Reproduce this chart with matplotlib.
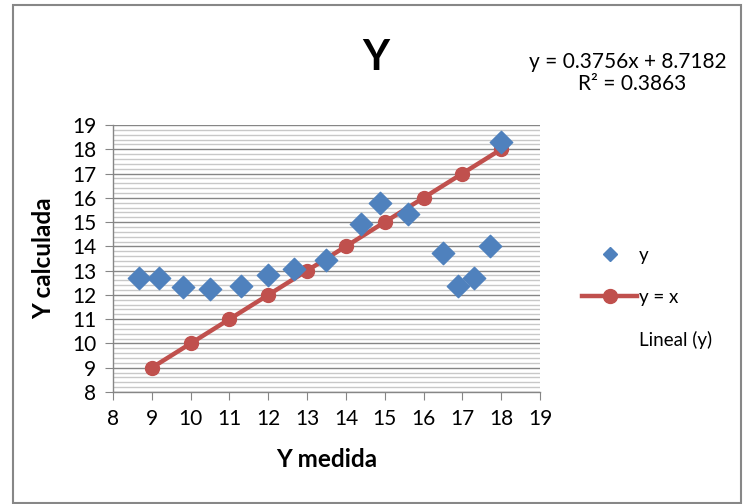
import numpy as np
import matplotlib
matplotlib.use('Agg')
import matplotlib.pyplot as plt
from matplotlib.lines import Line2D
from matplotlib.patches import Rectangle

plt.rcParams['font.family'] = ['Lato', 'DejaVu Sans']

# measured vs calculated values
y_medida = [8.68, 9.18, 9.81, 10.5, 11.29, 11.99, 12.67, 13.48,
            14.39, 14.89, 15.6, 16.5, 16.9, 17.3, 17.7, 17.99]
y_calc = [12.68, 12.71, 12.31, 12.24, 12.38, 12.82, 13.07, 13.45,
          14.91, 15.79, 15.32, 13.74, 12.37, 12.71, 14.03, 18.29]
ref_x = [9, 10, 11, 12, 13, 14, 15, 16, 17, 18]
ref_y = ref_x

blue = '#4F81BD'
red = '#C0504D'

fig = plt.figure(figsize=(7.49, 5.04), dpi=100)
fig.patches.append(Rectangle((13/749, 1/504), 728/749, 498/504, transform=fig.transFigure,
                             fill=False, edgecolor='#878787', linewidth=1.5))

ax = fig.add_axes([113/749, 112/504, 427/749, 267/504])
ax.set_xlim(8, 19)
ax.set_ylim(8, 19)
ax.set_xticks(range(8, 20))
ax.set_yticks(range(8, 20))
ax.set_yticks(np.arange(8, 19.01, 0.2), minor=True)
ax.grid(True, axis='y', which='minor', color='#C8C8C8', linewidth=1.0)
ax.grid(True, axis='y', which='major', color='#868686', linewidth=1.0)
ax.set_axisbelow(True)
ax.tick_params(axis='both', which='major', direction='out', length=6, color='#868686',
               labelsize=15, pad=6)
ax.tick_params(axis='y', which='minor', length=0)
for s in ['top', 'right']:
    ax.spines[s].set_visible(False)
for s in ['left', 'bottom']:
    ax.spines[s].set_color('#868686')
    ax.spines[s].set_linewidth(1.0)

ax.plot(ref_x, ref_y, color=red, linewidth=3.2, marker='o', markersize=10,
        zorder=3, clip_on=False)
ax.scatter(y_medida, y_calc, marker='D', s=130, color=blue, zorder=4, clip_on=False)

ax.set_xlabel('Y medida', fontsize=17.5, fontweight='bold', labelpad=14)
ax.set_ylabel('Y calculada', fontsize=17.5, fontweight='bold', labelpad=12)

fig.text(376/749, 1 - 58/504, 'Y', fontsize=30, fontweight='bold', ha='center', va='center')
fig.text(628/749, 1 - 62/504, 'y = 0.3756x + 8.7182', fontsize=15, ha='center', va='center')
fig.text(632/749, 1 - 84/504, 'R² = 0.3863', fontsize=15, ha='center', va='center')

handles = [Line2D([], [], linestyle='none', marker='D', markersize=7, color=blue),
           Line2D([], [], color=red, linewidth=3.2, marker='o', markersize=10),
           Line2D([], [], linestyle='none')]
fig.legend(handles, ['y', 'y = x', 'Lineal (y)'], loc='center left',
           bbox_to_anchor=(565/749, 1 - 298/504), frameon=False, fontsize=13.5,
           handlelength=2.95, handletextpad=0.1, labelspacing=1.35)

fig.savefig('out.png', dpi=100)
